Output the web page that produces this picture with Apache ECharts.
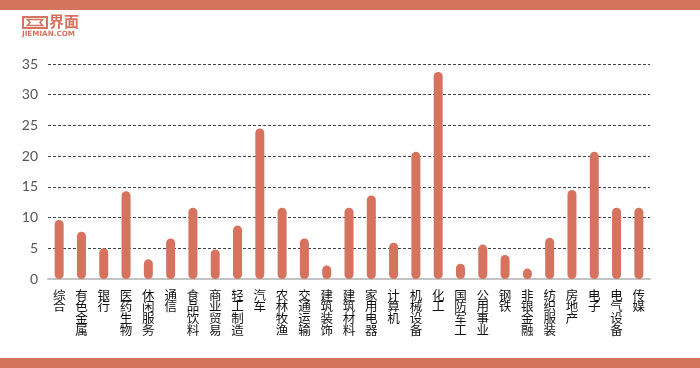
<!DOCTYPE html>
<html><head><meta charset="utf-8">
<script src="https://cdn.jsdelivr.net/npm/echarts@6/dist/echarts.min.js"></script>
<style>html,body{margin:0;padding:0;background:#fff}#c{width:700px;height:368px}</style>
</head><body><div id="c"></div>
<script>
const categories = ['综合','有色金属','银行','医药生物','休闲服务','通信','食品饮料','商业贸易','轻工制造','汽车','农林牧渔','交通运输','建筑装饰','建筑材料','家用电器','计算机','机械设备','化工','国防军工','公用事业','钢铁','非银金融','纺织服装','房地产','电子','电气设备','传媒'];
const values = [9.6, 7.7, 5.0, 14.3, 3.2, 6.6, 11.6, 4.8, 8.7, 24.5, 11.6, 6.6, 2.2, 11.6, 13.6, 5.9, 20.7, 33.7, 2.5, 5.6, 3.9, 1.7, 6.7, 14.5, 20.7, 11.6, 11.6];
const yTicks = [0, 5, 10, 15, 20, 25, 30, 35];

const ORANGE = '#d5735e';
const chart = echarts.init(document.getElementById('c'));
chart.setOption({
  animation: false,
  backgroundColor: '#fff',
  grid: { left: 48, right: 50, top: 64, bottom: 89 },
  xAxis: {
    type: 'category',
    data: categories,
    axisLine: { lineStyle: { color: '#c4c4c4', width: 2 } },
    axisTick: { show: false },
    axisLabel: {
      interval: 0,
      margin: 10,
      color: '#111',
      fontSize: 12.5,
      lineHeight: 11.8,
      fontFamily: '"Noto Sans CJK SC", sans-serif',
      verticalAlign: 'top',
      formatter: v => v.split('').join('\n')
    }
  },
  yAxis: {
    type: 'value',
    min: yTicks[0],
    max: yTicks[yTicks.length - 1],
    interval: 5,
    axisLine: { show: false },
    axisTick: { show: false },
    axisLabel: { color: '#555', fontSize: 14, margin: 10, fontFamily: 'Lato, sans-serif' },
    splitLine: { lineStyle: { color: '#3d4552', type: [3, 2], width: 1 } }
  },
  series: [{
    type: 'bar',
    data: values,
    barWidth: 9,
    itemStyle: { color: ORANGE, borderRadius: 4.5 }
  }],
  graphic: [
    { type: 'rect', shape: { x: 0, y: 0, width: 700, height: 10 }, style: { fill: ORANGE } },
    { type: 'rect', shape: { x: 0, y: 358, width: 700, height: 10 }, style: { fill: ORANGE } },
    { type: 'rect', shape: { x: 23, y: 17, width: 24, height: 11 }, style: { fill: 'none', stroke: ORANGE, lineWidth: 2 } },
    { type: 'polygon', shape: { points: [[27.5, 19.5], [42.5, 19.5], [40, 22.5], [42.5, 25.5], [27.5, 25.5], [30, 22.5]] }, style: { fill: 'none', stroke: ORANGE, lineWidth: 1.6 } },
    { type: 'text', x: 49, y: 13.5, style: { text: '界面', fill: ORANGE, font: 'bold 15px "Noto Sans CJK SC", sans-serif' } },
    { type: 'text', x: 22, y: 31, style: { text: 'JIEMIAN.COM', fill: ORANGE, font: 'bold 7.2px "DejaVu Sans", sans-serif' } }
  ]
});
</script></body></html>
